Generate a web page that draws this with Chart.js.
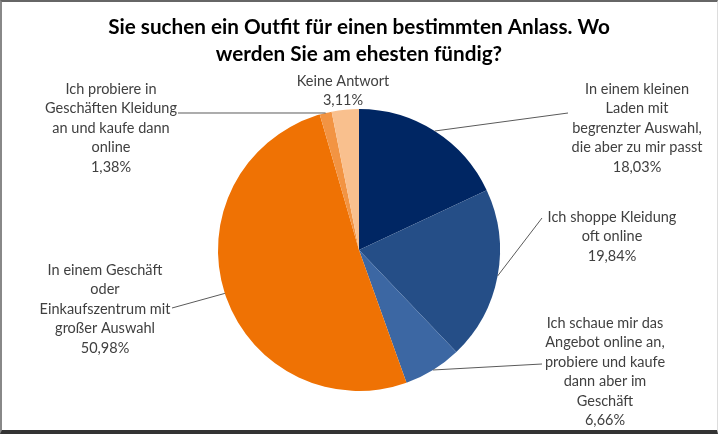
<!DOCTYPE html>
<html>
<head>
<meta charset="utf-8">
<script src="https://cdn.jsdelivr.net/npm/chart.js@4/dist/chart.umd.min.js"></script>
<style>
  html, body { margin: 0; padding: 0; background: #fff; }
  #wrap { position: relative; width: 718px; height: 434px; }
  #frame {
    position: absolute; left: 0; top: 0; width: 718px; height: 434px; box-sizing: border-box;
    border-top: 2px solid #666; border-left: 2px solid #888; border-bottom: 4px solid #333; border-right: 1px solid #ddd;
    pointer-events: none;
  }
</style>
</head>
<body>
<div id="wrap">
  <canvas id="pie" width="718" height="434"></canvas>
  <div id="frame"></div>
</div>
<script>
const titleLines = ['Sie suchen ein Outfit für einen bestimmten Anlass. Wo', 'werden Sie am ehesten fündig?'];

const categories = [
  ['In einem kleinen', 'Laden mit', 'begrenzter Auswahl,', 'die aber zu mir passt'],
  ['Ich shoppe Kleidung', 'oft online'],
  ['Ich schaue mir das', 'Angebot online an,', 'probiere und kaufe', 'dann aber im', 'Geschäft'],
  ['In einem Geschäft', 'oder', 'Einkaufszentrum mit', 'großer Auswahl'],
  ['Ich probiere in', 'Geschäften Kleidung', 'an und kaufe dann', 'online'],
  ['Keine Antwort']
];
const shares = [18.03, 19.84, 6.66, 50.98, 1.38, 3.11];
const sliceColors = ['#002663', '#254E87', '#3C67A3', '#EF7204', '#F29443', '#F9C08E'];

// where each label block sits (centre x, first line y) and where its leader line ends
const labelSpots = [
  { x: 637, y: 89, lineTo: [568, 113] },
  { x: 612, y: 217, lineTo: [542, 218] },
  { x: 605, y: 323, lineTo: [542, 364] },
  { x: 105, y: 270, lineTo: [172, 308] },
  { x: 111, y: 89, lineTo: [178, 113] },
  { x: 343, y: 81, lineTo: null }
];

const pctText = v => v.toFixed(2).replace('.', ',') + '%';

const outsideLabels = {
  id: 'outsideLabels',
  afterDatasetsDraw(chart) {
    const ctx = chart.ctx;
    const arcs = chart.getDatasetMeta(0).data;
    ctx.save();
    arcs.forEach((arc, i) => {
      const spot = labelSpots[i];
      const p = arc.getProps(['x', 'y', 'startAngle', 'endAngle', 'outerRadius'], true);
      const mid = (p.startAngle + p.endAngle) / 2;
      if (spot.lineTo) {
        ctx.beginPath();
        ctx.moveTo(p.x + Math.cos(mid) * p.outerRadius, p.y + Math.sin(mid) * p.outerRadius);
        ctx.lineTo(spot.lineTo[0], spot.lineTo[1]);
        ctx.strokeStyle = '#5a5a5a';
        ctx.lineWidth = 1;
        ctx.stroke();
      }
      const lines = categories[i].concat(pctText(shares[i]));
      ctx.font = '14.5px Lato';
      ctx.fillStyle = '#404040';
      ctx.textAlign = 'center';
      ctx.textBaseline = 'middle';
      lines.forEach((t, j) => ctx.fillText(t, spot.x, spot.y + j * 19.5));
    });
    ctx.restore();
  }
};

new Chart(document.getElementById('pie'), {
  type: 'pie',
  data: {
    labels: categories,
    datasets: [{
      data: shares,
      backgroundColor: sliceColors,
      borderWidth: 0
    }]
  },
  options: {
    responsive: false,
    animation: false,
    layout: { padding: { left: 0, right: 0, top: 0, bottom: 43 } },
    plugins: {
      legend: { display: false },
      tooltip: { enabled: false },
      title: {
        display: true,
        text: titleLines,
        color: '#000',
        font: { family: 'Lato', size: 20.7, weight: 'bold', lineHeight: 27 / 20.7 },
        padding: { top: 13.5, bottom: 41.5 }
      }
    }
  },
  plugins: [outsideLabels]
});
</script>
</body>
</html>
